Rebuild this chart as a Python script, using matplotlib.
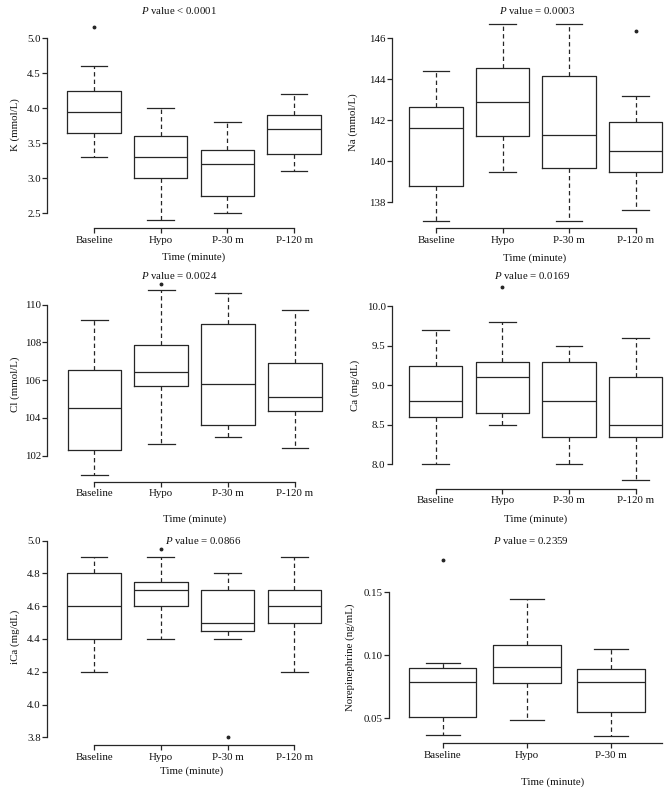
import matplotlib
matplotlib.use("Agg")
import matplotlib.pyplot as plt

# ---- data ----
groups = ["Baseline", "Hypo", "P-30 m", "P-120 m"]

k_low = [3.3, 2.4, 2.5, 3.1]
k_q1 = [3.65, 3.0, 2.75, 3.35]
k_med = [3.95, 3.3, 3.2, 3.7]
k_q3 = [4.25, 3.6, 3.4, 3.9]
k_high = [4.6, 4.0, 3.8, 4.2]
k_out = [[5.16], [], [], []]

na_low = [137.1, 139.5, 137.1, 137.6]
na_q1 = [138.8, 141.25, 139.65, 139.5]
na_med = [141.6, 142.9, 141.3, 140.5]
na_q3 = [142.65, 144.55, 144.15, 141.9]
na_high = [144.4, 146.7, 146.7, 143.2]
na_out = [[], [], [], [146.35]]

cl_low = [101.0, 102.6, 103.0, 102.4]
cl_q1 = [102.3, 105.7, 103.65, 104.35]
cl_med = [104.55, 106.45, 105.8, 105.1]
cl_q3 = [106.55, 107.85, 109.0, 106.9]
cl_high = [109.2, 110.8, 110.6, 109.7]
cl_out = [[], [111.1], [], []]

ca_low = [8.0, 8.5, 8.0, 7.8]
ca_q1 = [8.6, 8.65, 8.35, 8.35]
ca_med = [8.8, 9.1, 8.8, 8.5]
ca_q3 = [9.25, 9.3, 9.3, 9.1]
ca_high = [9.7, 9.8, 9.5, 9.6]
ca_out = [[], [10.24], [], []]

ica_low = [4.2, 4.4, 4.4, 4.2]
ica_q1 = [4.4, 4.6, 4.45, 4.5]
ica_med = [4.6, 4.7, 4.5, 4.6]
ica_q3 = [4.8, 4.75, 4.7, 4.7]
ica_high = [4.9, 4.9, 4.8, 4.9]
ica_out = [[], [4.95], [3.8], []]

ne_low = [0.037, 0.049, 0.036]
ne_q1 = [0.051, 0.078, 0.055]
ne_med = [0.079, 0.091, 0.079]
ne_q3 = [0.090, 0.108, 0.089]
ne_high = [0.094, 0.145, 0.105]
ne_out = [[0.176], [], []]

k_ticks = [2.5, 3.0, 3.5, 4.0, 4.5, 5.0]
na_ticks = [138, 140, 142, 144, 146]
cl_ticks = [102, 104, 106, 108, 110]
ca_ticks = [8.0, 8.5, 9.0, 9.5, 10.0]
ica_ticks = [3.8, 4.0, 4.2, 4.4, 4.6, 4.8, 5.0]
ne_ticks = [0.05, 0.10, 0.15]

panels = [
    ("K (mmol/L)", "< 0.0001", k_low, k_q1, k_med, k_q3, k_high, k_out, k_ticks, "{:.1f}"),
    ("Na (mmol/L)", "= 0.0003", na_low, na_q1, na_med, na_q3, na_high, na_out, na_ticks, "{:.0f}"),
    ("Cl (mmol/L)", "= 0.0024", cl_low, cl_q1, cl_med, cl_q3, cl_high, cl_out, cl_ticks, "{:.0f}"),
    ("Ca (mg/dL)", "= 0.0169", ca_low, ca_q1, ca_med, ca_q3, ca_high, ca_out, ca_ticks, "{:.1f}"),
    ("iCa (mg/dL)", "= 0.0866", ica_low, ica_q1, ica_med, ica_q3, ica_high, ica_out, ica_ticks, "{:.1f}"),
    ("Norepinephrine (ng/mL)", "= 0.2359", ne_low, ne_q1, ne_med, ne_q3, ne_high, ne_out, ne_ticks, "{:.2f}"),
]

# ---- layout in pixels (measured on the 670x787 reference) ----
# x of first group, spacing, left/right of plot area, two y refs (value, px), top/bottom px
geom = [
    (94.0, 66.7, 47, 338, (5.0, 38.3), (2.5, 213.3), 19, 228.3),
    (436.0, 66.5, 392, 680, (146, 38.3), (138, 202.3), 19, 228.3),
    (94.3, 66.9, 47, 338, (110, 304.7), (102, 455.7), 275, 482.0),
    (435.7, 66.7, 391.7, 680, (10.0, 306.3), (8.0, 464.3), 282, 488.7),
    (94.0, 66.8, 47, 338, (5.0, 540.7), (3.8, 737.3), 538, 745.0),
    (442.7, 84.2, 389, 663, (0.15, 592.3), (0.05, 718.3), 550, 743.0),
]
title_pos = [(179, 11), (537, 11), (179, 275.3), (532, 275.3), (203, 540.7), (531, 540.7)]
xlab_pos = [(194, 257.3), (535, 258.5), (195, 518.7), (536, 518.7), (192, 770.7), (553, 781.7)]
ylab_pos = [(15, 125), (353, 122), (15, 384), (355, 385), (15, 637), (350, 657)]

W, H = 670, 787
plt.rcParams["font.family"] = "Liberation Serif"
plt.rcParams["mathtext.fontset"] = "custom"
plt.rcParams["mathtext.it"] = "Liberation Serif:italic"
plt.rcParams["mathtext.rm"] = "Liberation Serif"

ink = "#262626"
fs = 7.8
lw = 0.9

fig = plt.figure(figsize=(W / 100, H / 100), dpi=100)

for i, (ylab, pval, lo, q1, med, q3, hi, out, ticks, fmt) in enumerate(panels):
    x1, dx, lpx, rpx, (va, pa), (vb, pb), tpx, bpx = geom[i]
    s = (pb - pa) / (va - vb)  # px per unit
    ylo = va - (bpx - pa) / s
    yhi = va + (pa - tpx) / s
    xlo = 1 + (lpx - x1) / dx
    xhi = 1 + (rpx - x1) / dx

    ax = fig.add_axes([lpx / W, 1 - bpx / H, (rpx - lpx) / W, (bpx - tpx) / H])
    ax.patch.set_alpha(0)
    n = len(med)
    stats = []
    for j in range(n):
        stats.append(dict(whislo=lo[j], q1=q1[j], med=med[j], q3=q3[j],
                          whishi=hi[j], fliers=out[j]))
    pos = list(range(1, n + 1))
    ax.bxp(stats, positions=pos, widths=0.8, capwidths=0.4, showfliers=True,
           boxprops=dict(color=ink, linewidth=lw),
           whiskerprops=dict(color=ink, linewidth=lw, linestyle=(0, (3.5, 2.5))),
           capprops=dict(color=ink, linewidth=lw),
           medianprops=dict(color=ink, linewidth=lw),
           flierprops=dict(marker="o", markersize=1.8, markerfacecolor=ink,
                           markeredgecolor=ink))
    ax.set_xlim(xlo, xhi)
    ax.set_ylim(ylo, yhi)
    for sp in ["top", "right"]:
        ax.spines[sp].set_visible(False)
    for sp in ["left", "bottom"]:
        ax.spines[sp].set_color(ink)
        ax.spines[sp].set_linewidth(lw)
    ax.spines["left"].set_bounds(ticks[0], ticks[-1])
    if i == 5:
        ax.spines["bottom"].set_bounds(1, xhi - 0.01)
    else:
        ax.spines["bottom"].set_bounds(1, n)
    ax.set_yticks(ticks)
    ax.set_yticklabels([fmt.format(t) for t in ticks])
    ax.set_xticks(pos)
    ax.set_xticklabels(groups[:n])
    ax.tick_params(axis="both", direction="out", length=3.4, width=lw,
                   color=ink, labelcolor="#111111", labelsize=fs)
    ax.tick_params(axis="y", pad=1.0)
    ax.tick_params(axis="x", pad=2.0)

    tx, ty = title_pos[i]
    fig.text(tx / W, 1 - ty / H, r"$\mathit{P}$ value " + pval, ha="center", va="center",
             fontsize=fs, color="#111111")
    lx, ly = xlab_pos[i]
    fig.text(lx / W, 1 - ly / H, "Time (minute)", ha="center", va="center",
             fontsize=fs, color="#111111")
    yx, yy = ylab_pos[i]
    fig.text(yx / W, 1 - yy / H, ylab, ha="center", va="center", rotation=90,
             fontsize=fs, color="#111111")

fig.savefig("out.png", dpi=100)
